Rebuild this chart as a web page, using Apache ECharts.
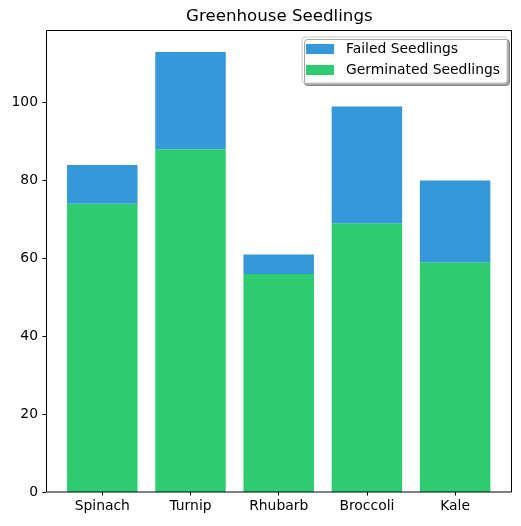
<!DOCTYPE html>
<html>
<head>
<meta charset="utf-8">
<script src="https://cdn.jsdelivr.net/npm/echarts@6.0.0/dist/echarts.min.js"></script>
<style>
  html, body { margin: 0; padding: 0; background: #fff; }
  #main { width: 521px; height: 526px; }
</style>
</head>
<body>
<div id="main"></div>
<script>
// chart data
var categories = ['Spinach', 'Turnip', 'Rhubarb', 'Broccoli', 'Kale'];
var germinated = [74, 88, 56, 69, 59];
var failed = [10, 25, 5, 30, 21];
var yTicks = [0, 20, 40, 60, 80, 100];
var yMax = 118.65;

var FONT = 'DejaVu Sans';
var chart = echarts.init(document.getElementById('main'), null, { renderer: 'canvas' });

var option = {
  animation: false,
  backgroundColor: '#fff',
  textStyle: { fontFamily: FONT },
  title: {
    text: 'Greenhouse Seedlings',
    left: 181,
    top: 3,
    textStyle: { fontFamily: FONT, fontSize: 16.67, fontWeight: 'normal', color: '#000' }
  },
  legend: {
    data: ['Failed Seedlings', 'Germinated Seedlings'],
    orient: 'vertical',
    left: 302,
    top: 37,
    padding: [5, 7, 6, 4],
    itemGap: 7,
    itemWidth: 28,
    itemHeight: 10,
    icon: 'rect',
    backgroundColor: '#fff',
    borderColor: '#cccccc',
    borderWidth: 1,
    borderRadius: 3,
    shadowColor: 'rgba(0,0,0,0.35)',
    shadowBlur: 0,
    shadowOffsetX: 2.5,
    shadowOffsetY: 2.5,
    textStyle: { fontFamily: FONT, fontSize: 13.9, color: '#000', lineHeight: 14, padding: [0, 0, 0, 7] }
  },
  grid: {
    left: 58.2,
    top: 30,
    width: 441,
    height: 462,
    containLabel: false,
    outerBoundsMode: 'none'
  },
  xAxis: {
    type: 'category',
    data: categories,
    axisLine: { show: false },
    axisTick: { show: true, alignWithLabel: true, interval: 0, length: 3.5, lineStyle: { color: '#000', width: 1 } },
    axisLabel: { interval: 0, margin: 7, fontFamily: FONT, fontSize: 13.9, color: '#000' },
    splitLine: { show: false }
  },
  yAxis: {
    type: 'value',
    min: 0,
    max: yMax,
    offset: 12.2,
    axisLine: { show: false },
    axisTick: { show: true, customValues: yTicks, length: 3.5, lineStyle: { color: '#000', width: 1 } },
    axisLabel: { customValues: yTicks, margin: 8, fontFamily: FONT, fontSize: 13.9, color: '#000' },
    splitLine: { show: false }
  },
  series: [
    {
      name: 'Germinated Seedlings',
      type: 'bar',
      stack: 'total',
      data: germinated,
      barWidth: 70.5,
      itemStyle: { color: '#2ecc71' }
    },
    {
      name: 'Failed Seedlings',
      type: 'bar',
      stack: 'total',
      data: failed,
      barWidth: 70.5,
      itemStyle: { color: '#3498db' }
    }
  ],
  graphic: [
    {
      // axes frame (matplotlib spines)
      type: 'rect',
      z: 100,
      silent: true,
      shape: { x: 46.5, y: 30.5, width: 465, height: 461.5 },
      style: { fill: null, stroke: '#000', lineWidth: 1 }
    }
  ]
};

chart.setOption(option);
</script>
</body>
</html>
